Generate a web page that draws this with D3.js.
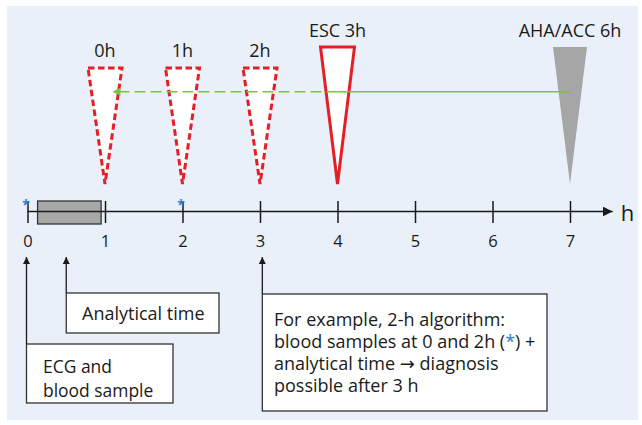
<!DOCTYPE html>
<html><head><meta charset="utf-8">
<script src="https://cdn.jsdelivr.net/npm/d3@7"></script>
<style>
html,body{margin:0;padding:0;background:#fff;}
svg{display:block;font-family:"Open Sans",sans-serif;}
</style></head>
<body>
<svg id="c" width="642" height="425"></svg>
<script>
// ---- data ----
const hourTicks = [0,1,2,3,4,5,6,7];
const tickLabels = ["0","1","2","3","4","5","6","7"];
const triangleLabels = ["0h","1h","2h","ESC 3h","AHA/ACC 6h"];
const triangleTimes = [1,2,3,4,7];          // time (h) at which result is available
const sampleTimes = [0,2];                   // blood samples (*) for 2-h algorithm
const analyticalWindow = [0.13,0.95];        // analytical time bar (h)
const arrowFrom = 7, arrowSolidTo = 4, arrowTo = 1.14;
const calloutTimes = [0,0.5,3.03];
const calloutTexts = [
  ["ECG and","blood sample"],
  ["Analytical time"],
  ["For example, 2-h algorithm:","blood samples at 0 and 2h (*) +","analytical time \u2192 diagnosis","possible after 3 h"]
];

const svg = d3.select("#c");
const red="#e41f26", green="#7cc242", grey="#a6a6a6", blue="#2f7ccc", ink="#1a1a1a";

svg.append("rect").attr("x",7).attr("y",6).attr("width",631).attr("height",414).attr("fill","#eaf0f9");

const x = d3.scaleLinear().domain([0,7]).range([27.5,570]);
const axisY = 211.5;

const defs = svg.append("defs");
defs.append("marker").attr("id","ah").attr("viewBox","0 0 10 10").attr("refX",10).attr("refY",5)
  .attr("markerWidth",10).attr("markerHeight",10).attr("markerUnits","userSpaceOnUse").attr("orient","auto")
  .append("path").attr("d","M0,0L10,5L0,10Z").attr("fill",ink);
defs.append("marker").attr("id","ahs").attr("viewBox","0 0 10 10").attr("refX",10).attr("refY",5)
  .attr("markerWidth",7).attr("markerHeight",8).attr("markerUnits","userSpaceOnUse").attr("orient","auto")
  .append("path").attr("d","M0,0L10,5L0,10Z").attr("fill",ink);
defs.append("marker").attr("id","ahg").attr("viewBox","0 0 10 10").attr("refX",2).attr("refY",5)
  .attr("markerWidth",9).attr("markerHeight",8).attr("markerUnits","userSpaceOnUse").attr("orient","auto")
  .append("path").attr("d","M0,0L10,5L0,10Z").attr("fill",green);

// analytical time bar
svg.append("rect").attr("x",x(analyticalWindow[0])).attr("y",201).attr("width",x(analyticalWindow[1])-x(analyticalWindow[0]))
  .attr("height",23).attr("fill","#a8a8a8").attr("stroke","#333").attr("stroke-width",1.3);

// axis line with arrow
svg.append("line").attr("x1",x(0)).attr("x2",x(7.55)).attr("y1",axisY).attr("y2",axisY)
  .attr("stroke",ink).attr("stroke-width",1.5).attr("marker-end","url(#ah)");
const axis = d3.axisBottom(x).tickValues(hourTicks).tickFormat((d,i)=>tickLabels[i]).tickSize(0).tickPadding(0);
const gA = svg.append("g").attr("transform",`translate(0,${axisY})`).call(axis);
gA.select(".domain").remove();
gA.selectAll(".tick line").remove();
gA.selectAll(".tick").append("line").attr("y1",-10.5).attr("y2",11.5).attr("stroke",ink).attr("stroke-width",1.5);
gA.selectAll(".tick text").attr("y",35.5).attr("dy",null).attr("font-size",16.5).attr("fill",ink)
  .attr("font-family","Open Sans, sans-serif");
svg.append("text").attr("x",x(7.55)+8).attr("y",axisY+9).attr("font-size",22).attr("fill",ink).text("h");

// asterisks
svg.selectAll(".ast").data(sampleTimes).join("text").attr("x",d=>x(d)-1.5).attr("y",210).attr("text-anchor","middle")
  .attr("font-size",14).attr("font-weight","bold").attr("fill",blue).text("*");

// triangles
const tg = svg.selectAll(".tri").data(triangleTimes).join("g");
tg.append("path").attr("d",(d,i)=>{
    const top = i<3 ? 68 : 47;
    const cx = x(d);
    return `M${cx-17},${top}L${cx+17},${top}L${cx},${184}Z`;
  })
  .attr("fill",(d,i)=> i===4 ? grey : "#fff")
  .attr("stroke",(d,i)=> i===4 ? "none" : red)
  .attr("stroke-width",3)
  .attr("stroke-dasharray",(d,i)=> i<3 ? "6.5,3.5" : null)
  .attr("stroke-linejoin","miter");
tg.append("text").attr("x",d=>x(d)).attr("y",(d,i)=> i<3 ? 57 : 37).attr("text-anchor","middle")
  .attr("font-size",18).attr("fill",ink).text((d,i)=>triangleLabels[i]);

// green arrow
svg.append("line").attr("x1",x(arrowFrom)).attr("x2",x(arrowSolidTo)).attr("y1",91.7).attr("y2",91.7)
  .attr("stroke",green).attr("stroke-width",1.6);
svg.append("line").attr("x1",x(arrowSolidTo)).attr("x2",x(arrowTo)+3).attr("y1",91.7).attr("y2",91.7)
  .attr("stroke",green).attr("stroke-width",1.6).attr("stroke-dasharray","11,5").attr("marker-end","url(#ahg)");

// callout boxes
const boxes = [
  {x0:x(calloutTimes[0])-1, y0:344, x1:173, y1:403, tx:43, ty:373, lh:24, fs:18, sx:0.97},
  {x0:x(calloutTimes[1]), y0:293, x1:219, y1:333, tx:82, ty:320, lh:22, fs:18, sx:1.0},
  {x0:x(calloutTimes[2]), y0:294, x1:547, y1:411, tx:274, ty:326, lh:22, fs:18, sx:1.0}
];
boxes.forEach((b,i)=>{
  svg.append("line").attr("x1",b.x0).attr("x2",b.x0).attr("y1",b.y0).attr("y2",257)
    .attr("stroke",ink).attr("stroke-width",1.3).attr("marker-end","url(#ahs)");
  svg.append("rect").attr("x",b.x0).attr("y",b.y0).attr("width",b.x1-b.x0).attr("height",b.y1-b.y0)
    .attr("fill","#fff").attr("stroke","#333").attr("stroke-width",1.3);
  calloutTexts[i].forEach((line,j)=>{
    const t = svg.append("text").attr("font-size",b.fs).attr("fill",ink)
      .attr("transform",`translate(${b.tx},${b.ty+j*b.lh}) scale(${b.sx},1)`);
    if(line.includes("(*)")){
      const parts=line.split("*");
      t.append("tspan").text(parts[0]);
      t.append("tspan").attr("fill",blue).text("*");
      t.append("tspan").text(parts[1]);
    } else if(line.includes("\u2192")){
      const parts=line.split("\u2192");
      t.append("tspan").text(parts[0]);
      t.append("tspan").attr("font-family","DejaVu Sans, sans-serif").text("\u2192");
      t.append("tspan").text(parts[1]);
    } else t.text(line);
  });
});
</script>
</body></html>
